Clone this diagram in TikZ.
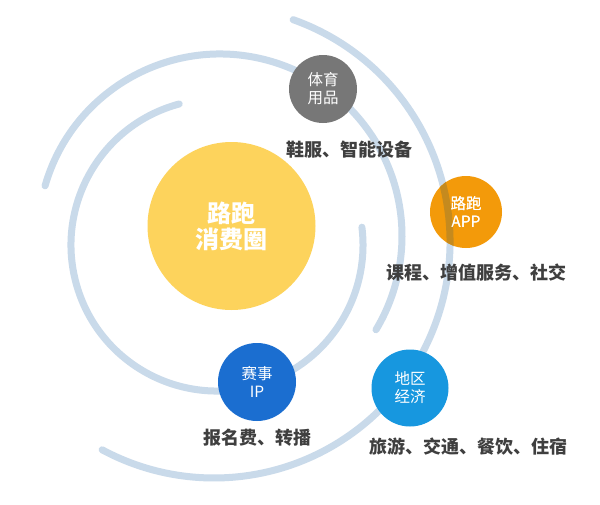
\documentclass[tikz,border=0pt]{standalone}
\usepackage{fontspec}
\setmainfont{Noto Sans CJK SC}
\definecolor{arcblue}{HTML}{C9DAEA}
\definecolor{arcband}{HTML}{C58A1E}
\definecolor{coreyellow}{HTML}{FDD35C}
\definecolor{geargrey}{HTML}{777777}
\definecolor{apporange}{HTML}{F39A0A}
\definecolor{ipblue}{HTML}{1B6ED0}
\definecolor{regblue}{HTML}{1797DF}
\definecolor{labelgrey}{HTML}{3F3F3F}
\tikzset{
  ring/.style={draw=arcblue, line width=7pt, line cap=round},
  bubble/.style={circle, inner sep=0pt, text=white, align=center,
    font=\fontsize{15.5}{18}\selectfont},
  caption/.style={text=labelgrey, inner sep=0pt,
    font=\fontsize{18}{20}\selectfont\bfseries}
}
\begin{document}
\begin{tikzpicture}[x=1pt,y=1pt]
\useasboundingbox[fill=white] (0,0) rectangle (600,-504);
% centres of the rings
\coordinate (cInner) at (217,-245);
\coordinate (cMid) at (220,-236);
\coordinate (cOuter) at (214,-242);
% rings
\draw[ring] ([shift={(105:146)}]cInner) arc[start angle=105, end angle=367, radius=146];
\draw[ring] ([shift={(164:182)}]cMid) arc[start angle=164, end angle=-31, radius=182];
\draw[ring] ([shift={(70.4:236)}]cOuter) arc[start angle=70.4, end angle=-118.3, radius=236];
% core
\node[circle, fill=coreyellow, minimum size=168pt, inner sep=0pt, text=white, align=center,
  font=\fontsize{24}{26}\selectfont\bfseries] (core) at (231.5,-226) {路跑\\消费圈};
% satellites
\node[bubble, fill=geargrey, minimum size=68pt] (gear) at (323,-89) {体育\\用品};
\node[bubble, fill=apporange, minimum size=72pt] (app) at (466,-212) {路跑\\APP};
\begin{scope}
  \clip (466,-212) circle[radius=36];
  \draw[ring, draw=arcband] ([shift={(70.4:236)}]cOuter) arc[start angle=70.4, end angle=-118.3, radius=236];
\end{scope}
\node[bubble, text=white] at (app.center) {路跑\\APP};
\node[bubble, fill=ipblue, minimum size=78pt] (ip) at (257,-382) {赛事\\IP};
\node[bubble, fill=regblue, minimum size=77pt] (reg) at (410,-388) {地区\\经济};
% captions
\node[caption] (capgear) at (349,-150) {鞋服、智能设备};
\node[caption] (capapp) at (476.5,-273) {课程、增值服务、社交};
\node[caption] (capip) at (257.5,-438) {报名费、转播};
\node[caption] (capreg) at (468.5,-447) {旅游、交通、餐饮、住宿};
\end{tikzpicture}
\end{document}
